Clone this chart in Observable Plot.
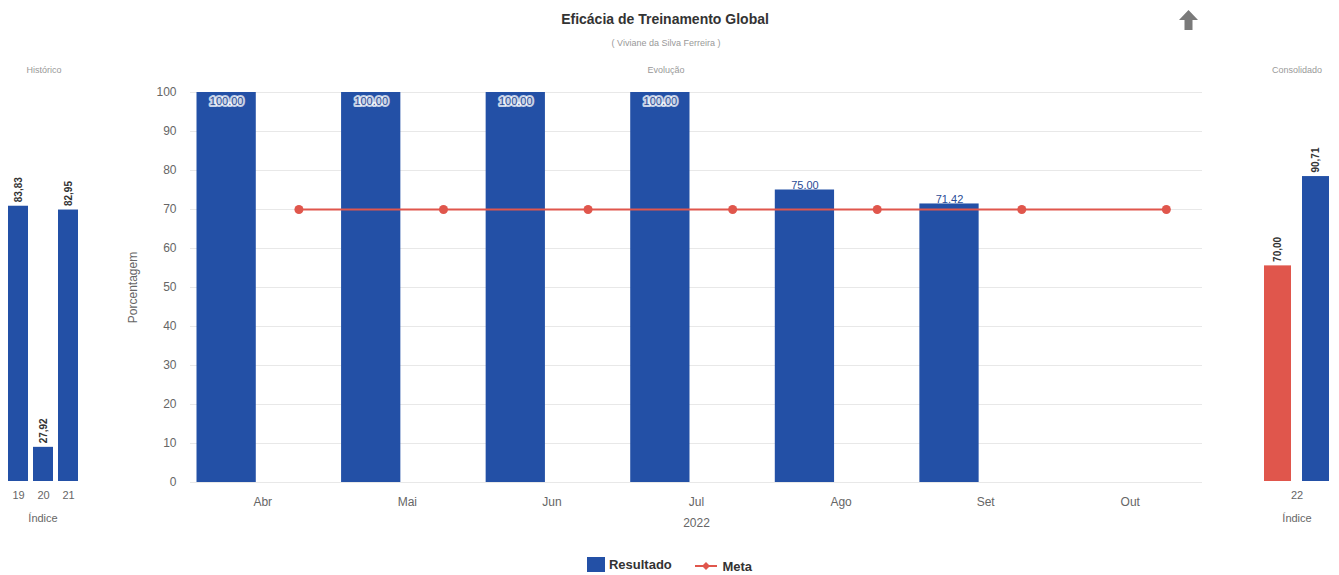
<!DOCTYPE html>
<html><head><meta charset="utf-8">
<script src="https://cdn.jsdelivr.net/npm/d3@7"></script>
<script src="https://cdn.jsdelivr.net/npm/@observablehq/plot@0.6"></script>
<style>
body{margin:0;background:#fff;font-family:"Liberation Sans",Arial,sans-serif;}
#root{position:relative;width:1339px;height:575px;overflow:hidden;background:#fff;}
.abs{position:absolute;}
.small{font-size:9px;color:#999;white-space:nowrap;transform:translateX(-50%);}
#title{left:665px;top:11px;font-size:14px;font-weight:bold;color:#333;transform:translateX(-50%);white-space:nowrap;}
#legend{left:0;width:1339px;top:557px;text-align:center;font-size:13px;font-weight:bold;color:#333;}
#legend span.item{display:inline-flex;align-items:center;margin:0 10px;}
</style></head><body><div id="root">
<div id="title" class="abs">Eficácia de Treinamento Global</div>
<div class="abs small" style="left:666px;top:38px;">( Viviane da Silva Ferreira )</div>
<div class="abs small" style="left:666px;top:65px;">Evolução</div>
<div class="abs small" style="left:44px;top:65px;">Histórico</div>
<div class="abs small" style="left:1297px;top:65px;">Consolidado</div>
<svg class="abs" style="left:1178px;top:9px" width="21" height="22" viewBox="0 0 21 22"><path d="M10.5 1 L20 11 L14.5 11 L14.5 21 L6.5 21 L6.5 11 L1 11 Z" fill="#7a7a7a"/></svg>
<div id="legend" class="abs">
<span class="item"><svg width="18" height="15" style="margin-right:4px"><rect width="18" height="15" fill="#2350a6"/></svg>Resultado</span>
<span class="item"><svg width="22" height="12" style="margin-right:5px"><line x1="0" y1="6" x2="22" y2="6" stroke="#e0564c" stroke-width="2"/><path d="M11 2 L15 6 L11 10 L7 6 Z" fill="#e0564c"/></svg>Meta</span>
</div>
</div>
<script>
const months = ["Abr","Mai","Jun","Jul","Ago","Set","Out"];
const resultado = [100,100,100,100,75,71.42,null];
const meta = [70,70,70,70,70,70,70];
const histIdx = ["19","20","21"];
const histVal = [83.83,27.92,82.95];
const consIdx = "22";
const consSeries = ["Meta","Resultado"];
const consVal = [70,90.71];
const sideDomain = [20,100];
const yTicks = [0,10,20,30,40,50,60,70,80,90,100];

const blue = "#2350a6", red = "#e0564c";
const font = '"Liberation Sans", Arial, sans-serif';
const root = document.getElementById("root");
const fmtDot = d3.format(".2f");
const fmtComma = v => d3.format(".2f")(v).replace(".", ",");

function place(svg, left, top){
  svg.style.position = "absolute";
  svg.style.left = left + "px";
  svg.style.top = top + "px";
  root.appendChild(svg);
}

// Middle: Evolução
const evo = months.map((m,i)=>({m, i, r: resultado[i], meta: meta[i]}));
const evoBars = evo.filter(d => d.r != null);
const mid = Plot.plot({
  width: 1100, height: 460,
  marginLeft: 70, marginRight: 18, marginTop: 12, marginBottom: 58,
  style: {fontFamily: font, fontSize: "12px", color: "#666", background: "transparent", overflow: "visible"},
  x: {type: "linear", domain: [-0.5, months.length - 0.5]},
  y: {domain: [0, 100]},
  marks: [
    Plot.ruleY(yTicks, {stroke: "#e8e8e8"}),
    Plot.rectY(evoBars, {x1: d => d.i - 0.455, x2: d => d.i - 0.045, y1: 0, y2: "r", fill: blue}),
    Plot.line(evo, {x: d => d.i + 0.25, y: "meta", stroke: red, strokeWidth: 2}),
    Plot.dot(evo, {x: d => d.i + 0.25, y: "meta", fill: red, r: 4.5}),
    Plot.text(evoBars.filter(d => d.r >= 95), {x: d => d.i - 0.25, y: "r", text: d => fmtDot(d.r), dy: 9, fill: "#2a4c96", stroke: "white", strokeWidth: 4, strokeOpacity: 0.75, fontSize: 11}),
    Plot.text(evoBars.filter(d => d.r < 95), {x: d => d.i - 0.25, y: "r", text: d => fmtDot(d.r), lineAnchor: "bottom", dy: -1, fill: "#2a4c96", fontSize: 11}),
    Plot.axisY({ticks: yTicks, tickSize: 0, tickPadding: 14, label: "Porcentagem", labelAnchor: "center", labelOffset: 62, labelArrow: "none", fontSize: 12}),
    Plot.axisX({ticks: d3.range(months.length), tickFormat: i => months[i], tickSize: 0, tickPadding: 15, label: "2022", labelAnchor: "center", labelOffset: 44, labelArrow: "none", fontSize: 12})
  ]
});
place(mid, 120, 80);

// Left: Histórico
const hist = histIdx.map((k,i)=>({k, v: histVal[i]}));
const left = Plot.plot({
  width: 86, height: 460,
  marginLeft: 7, marginRight: 8, marginTop: 56, marginBottom: 59,
  style: {fontFamily: font, fontSize: "11px", color: "#666", background: "transparent", overflow: "visible"},
  x: {domain: histIdx, paddingInner: 0.216, paddingOuter: 0},
  y: {domain: sideDomain, axis: null},
  marks: [
    Plot.barY(hist, {x: "k", y1: sideDomain[0], y2: "v", fill: blue}),
    Plot.text(hist, {x: "k", y: "v", text: d => fmtComma(d.v), rotate: -90, textAnchor: "start", dy: -4, fontWeight: "bold", fontSize: 10, fill: "#333"}),
    Plot.axisX({tickSize: 0, tickPadding: 10, label: "Índice", labelAnchor: "center", labelOffset: 40, labelArrow: "none", fontSize: 11})
  ]
});
place(left, 0, 80);

// Right: Consolidado
const cons = consSeries.map((s,i)=>({idx: consIdx, s, v: consVal[i]}));
const right = Plot.plot({
  width: 89, height: 460,
  marginLeft: 13, marginRight: 9, marginTop: 56, marginBottom: 59,
  style: {fontFamily: font, fontSize: "11px", color: "#666", background: "transparent", overflow: "visible"},
  fx: {padding: 0},
  x: {domain: consSeries, paddingInner: 0.282, paddingOuter: 0, axis: null},
  y: {domain: sideDomain, axis: null},
  color: {domain: consSeries, range: [red, blue]},
  marks: [
    Plot.barY(cons, {fx: "idx", x: "s", y1: sideDomain[0], y2: "v", fill: "s"}),
    Plot.text(cons, {fx: "idx", x: "s", y: "v", text: d => fmtComma(d.v), rotate: -90, textAnchor: "start", dy: -4, fontWeight: "bold", fontSize: 10, fill: "#333"}),
    Plot.axisFx({anchor: "bottom", tickSize: 0, tickPadding: 10, label: "Índice", labelAnchor: "center", labelOffset: 40, labelArrow: "none", fontSize: 11})
  ]
});
place(right, 1250, 80);
</script>
</body></html>
